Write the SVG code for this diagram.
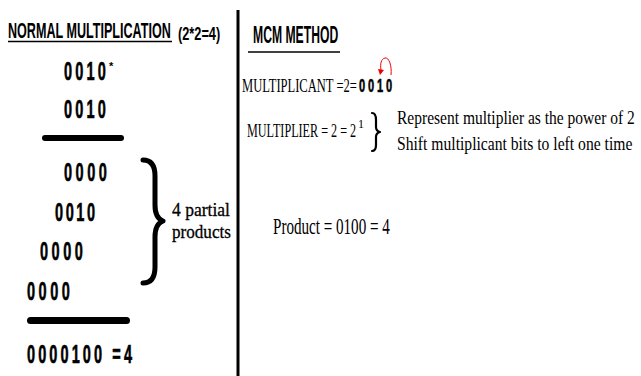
<svg xmlns="http://www.w3.org/2000/svg" width="641" height="376" viewBox="0 0 641 376">
<style>
  .sb { font-family: "Liberation Sans", Arial, sans-serif; font-weight: bold; fill: #000; }
  .dg { stroke: #000; stroke-width: 0.6; }
  .sf { font-family: "Liberation Serif", "Times New Roman", serif; fill: #000; }
  .bar { stroke: #000; stroke-linecap: round; fill: none; }
  .ul { stroke: #000; stroke-width: 1.5; }
  .brace { stroke: #000; fill: none; stroke-linecap: round; stroke-linejoin: round; }
</style>
<rect width="641" height="376" fill="#fff"/>

<g id="left-heading">
  <text class="sb" font-size="22" transform="translate(8,38) scale(0.55,1)" textLength="296" lengthAdjust="spacingAndGlyphs">NORMAL MULTIPLICATION</text>
  <line class="ul" x1="8" y1="41.5" x2="172" y2="41.5"/>
  <text class="sb" font-size="19" transform="translate(178,40) scale(0.67,1)" textLength="63" lengthAdjust="spacingAndGlyphs">(2*2=4)</text>
</g>

<g id="multiplicand">
  <text class="sb dg" font-size="25" transform="translate(64,80) scale(0.58,1)" textLength="72" lengthAdjust="spacing">0010</text>
  <text class="sb" x="109" y="70" font-size="11">*</text>
</g>
<g id="multiplier">
  <text class="sb dg" font-size="25" transform="translate(64,118) scale(0.58,1)" textLength="72" lengthAdjust="spacing">0010</text>
</g>
<g id="bar1"><line class="bar" x1="45" y1="138" x2="121" y2="138" stroke-width="6"/></g>

<g id="pp1"><text class="sb dg" font-size="25" transform="translate(64,181) scale(0.58,1)" textLength="74" lengthAdjust="spacing">0000</text></g>
<g id="pp2"><text class="sb dg" font-size="25" transform="translate(55,221) scale(0.58,1)" textLength="69" lengthAdjust="spacing">0010</text></g>
<g id="pp3"><text class="sb dg" font-size="25" transform="translate(40,260) scale(0.58,1)" textLength="74" lengthAdjust="spacing">0000</text></g>
<g id="pp4"><text class="sb dg" font-size="25" transform="translate(27,300) scale(0.58,1)" textLength="74" lengthAdjust="spacing">0000</text></g>

<g id="bar2"><line class="bar" x1="30.5" y1="320.5" x2="126.5" y2="320.5" stroke-width="7"/></g>
<g id="result"><text class="sb dg" font-size="25" transform="translate(27,363) scale(0.58,1)" textLength="181" lengthAdjust="spacing">0000100 =4</text></g>

<g id="partial-brace">
  <path class="brace" stroke-width="5" d="M143,160 Q155,160 155,176 L155,205 Q155,218 163,221 Q155,224 155,237 L155,267 Q155,283 143,283"/>
  <text class="sf" font-size="19" transform="translate(172,216) scale(0.92,1)" textLength="63" lengthAdjust="spacingAndGlyphs" stroke="#000" stroke-width="0.3">4 partial</text>
  <text class="sf" font-size="19" transform="translate(172,238) scale(0.9,1)" textLength="65.5" lengthAdjust="spacingAndGlyphs" stroke="#000" stroke-width="0.3">products</text>
</g>

<g id="connectors">
  <line x1="238" y1="10" x2="238" y2="376" stroke="#000" stroke-width="3"/>
</g>

<g id="right-heading">
  <text class="sb" font-size="24" transform="translate(253,43) scale(0.51,1)" textLength="167" lengthAdjust="spacingAndGlyphs">MCM METHOD</text>
  <line class="ul" x1="248" y1="52" x2="340" y2="52"/>
</g>

<g id="multiplicant-line">
  <text class="sf" font-size="18" transform="translate(242,92) scale(0.66,1)" textLength="174" lengthAdjust="spacingAndGlyphs">MULTIPLICANT =2=</text>
  <text class="sb dg" font-size="19" transform="translate(359,92) scale(0.58,1)" textLength="57" lengthAdjust="spacing">0010</text>
  <path d="M391,75 C392,66 389,57 385,58 C381,59 380,64 381,70" fill="none" stroke="#e00" stroke-width="1"/>
  <path d="M378,69 L384,70 L380,75 Z" fill="#e00"/>
</g>

<g id="multiplier-line">
  <text class="sf" font-size="18" transform="translate(247,137) scale(0.67,1)" textLength="163" lengthAdjust="spacingAndGlyphs">MULTIPLIER = 2 = 2</text>
  <text class="sf" x="358" y="128" font-size="12">1</text>
  <path class="brace" stroke-width="2.2" d="M372,113 Q376,113 376,120 L376,127 Q376,131 380,132 Q376,133 376,137 L376,145 Q376,151 372,151"/>
</g>

<g id="explanation">
  <text class="sf" font-size="19" transform="translate(397,124) scale(0.82,1)" textLength="290" lengthAdjust="spacingAndGlyphs">Represent multiplier as the power of 2</text>
  <text class="sf" font-size="19" transform="translate(397,150) scale(0.82,1)" textLength="287" lengthAdjust="spacingAndGlyphs">Shift multiplicant bits to left one time</text>
</g>

<g id="product">
  <text class="sf" font-size="24" transform="translate(273,234) scale(0.59,1)" textLength="198" lengthAdjust="spacingAndGlyphs">Product = 0100 = 4</text>
</g>
</svg>
